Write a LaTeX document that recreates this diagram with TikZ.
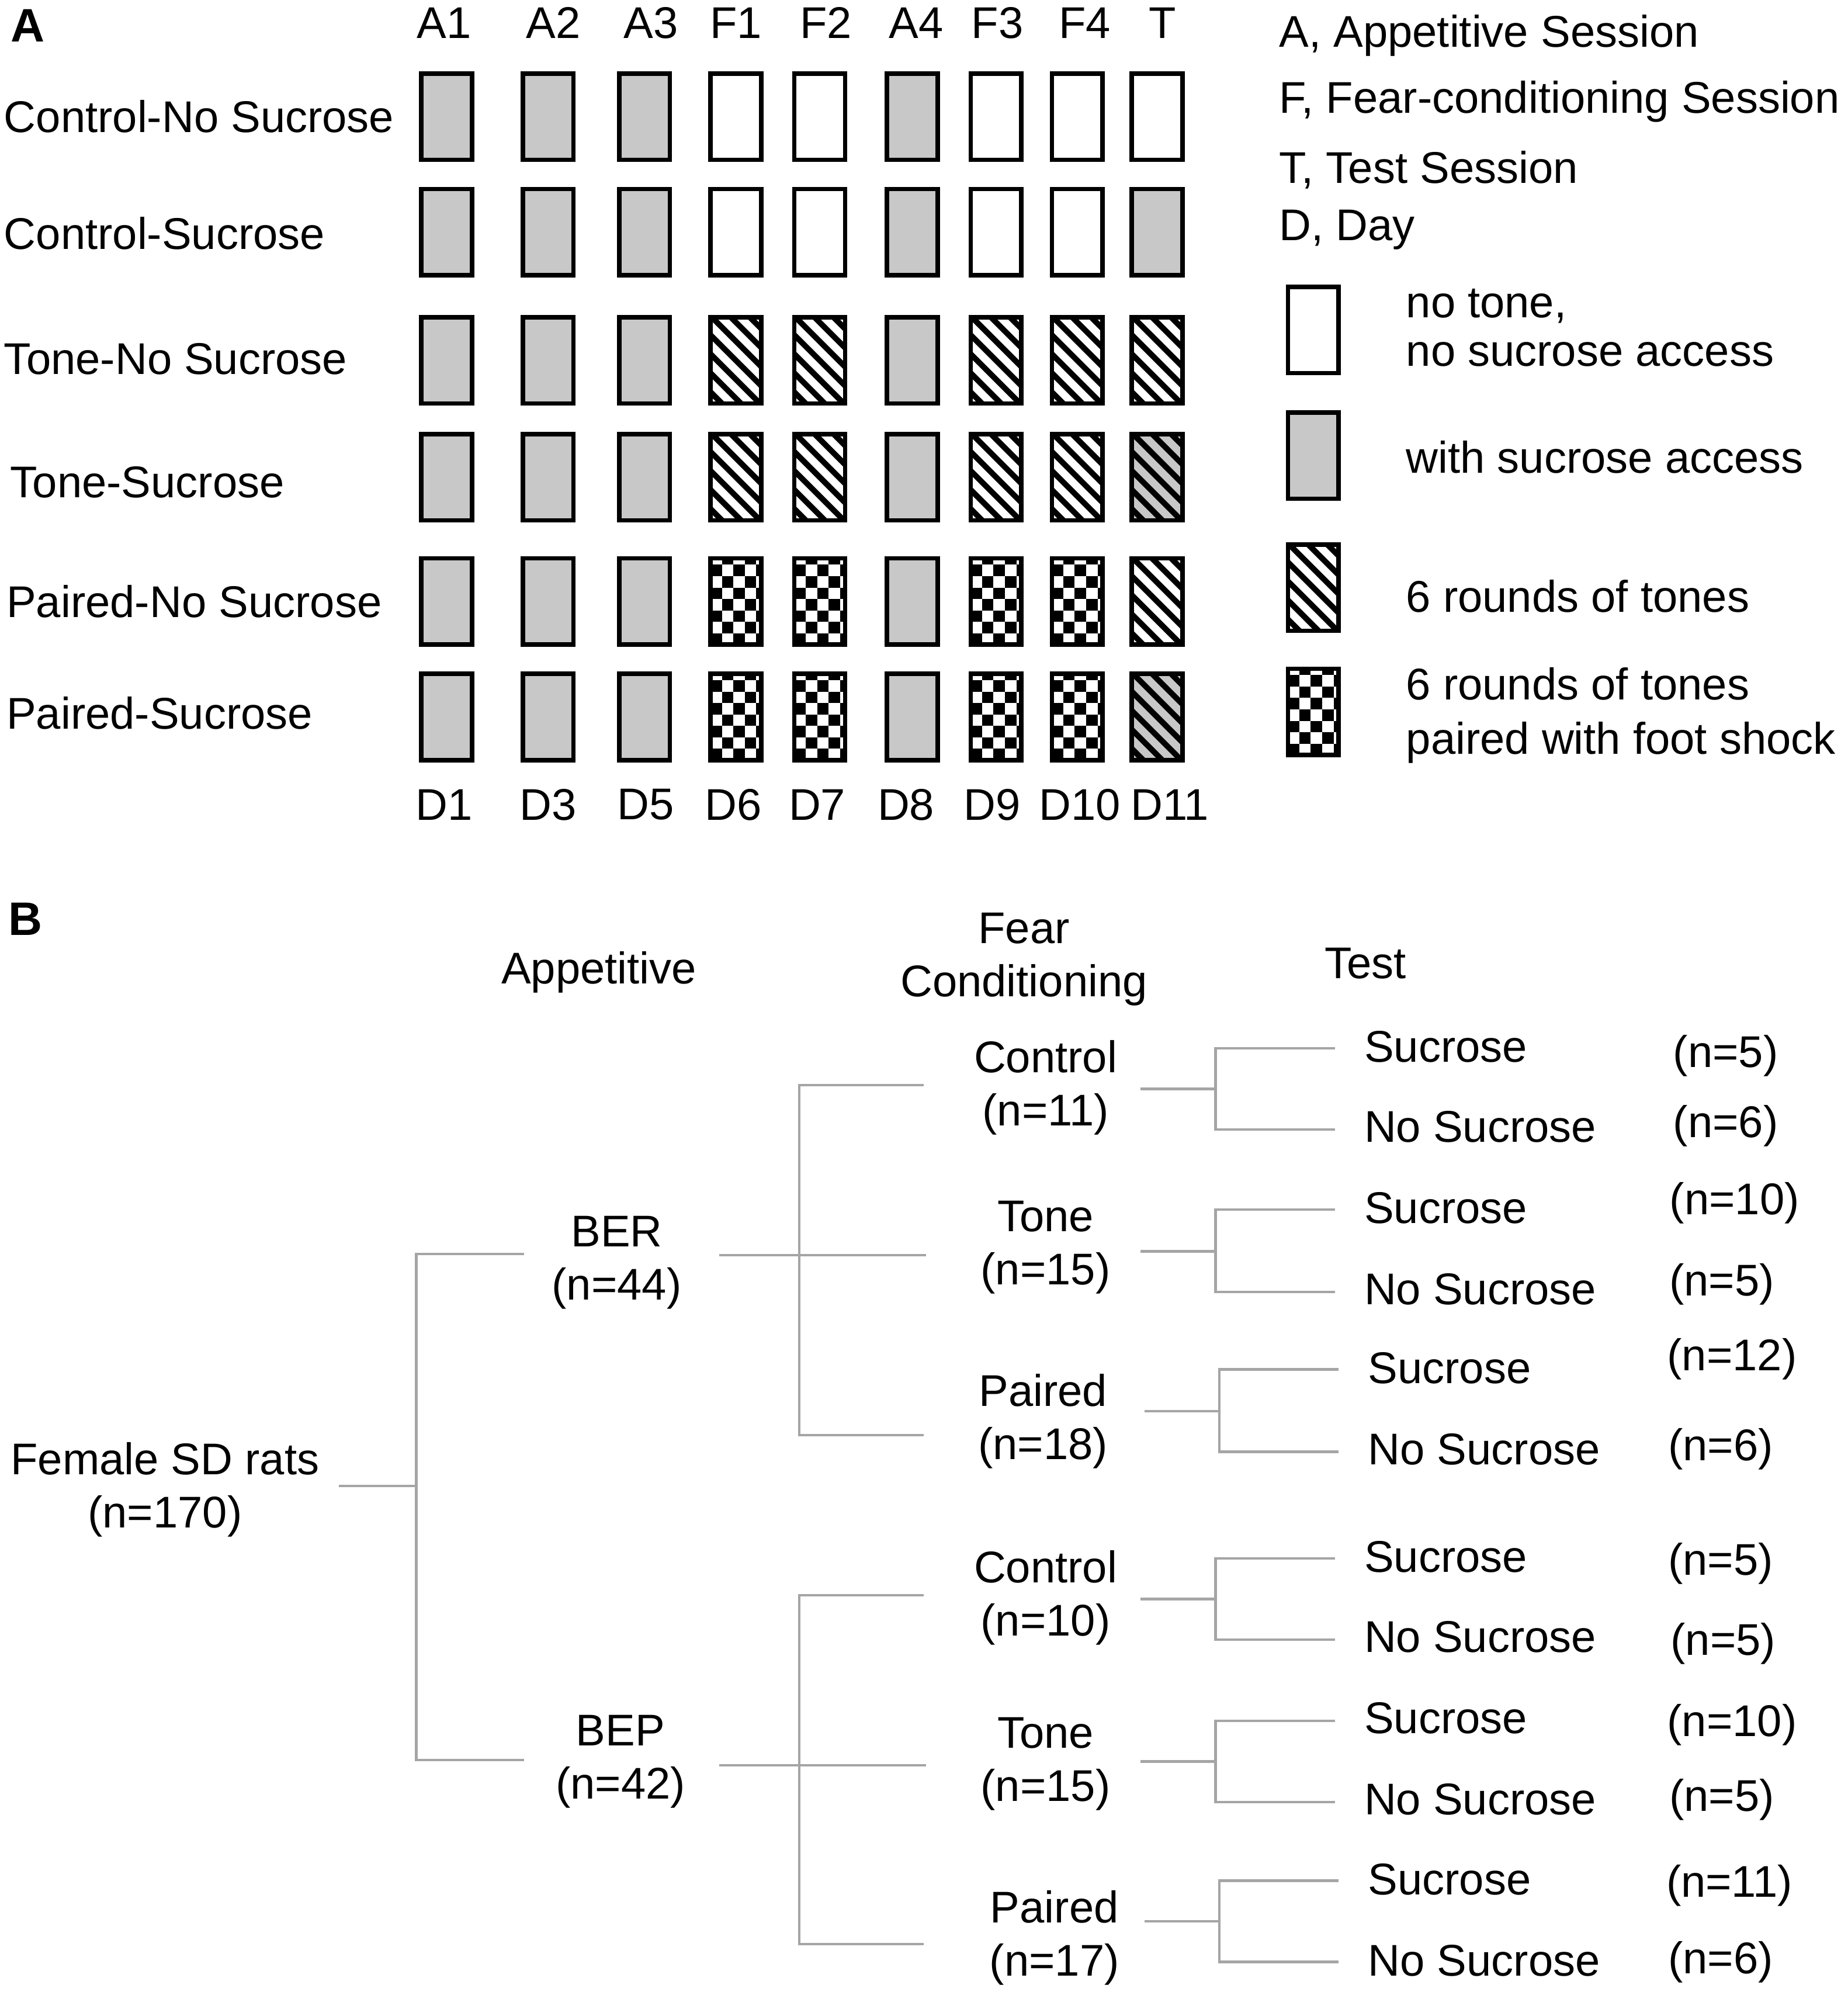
\documentclass[tikz,border=0pt]{standalone}
\usepackage{fontspec}
\setmainfont{Liberation Sans}
\definecolor{sgray}{RGB}{200,200,200}
\definecolor{tgray}{RGB}{165,165,165}
\begin{document}
\begin{tikzpicture}[x=1pt,y=-1pt,
  every node/.style={font=\fontsize{35}{42}\selectfont, inner sep=0pt},
  lbl/.style={font=\bfseries\fontsize{37}{42}\selectfont},
  tn/.style={align=center},
  sess/.style={draw=black, line width=3.5pt, minimum width=40pt, minimum height=68pt, inner sep=0pt},
  hatchfill/.style={path picture={\foreach \k in {-7,...,7}{\draw[black,line width=4.5pt] ([xshift=\k*15pt-60pt, yshift=60pt]path picture bounding box.center) -- ++(120,120);}}},
  checkfill/.style={path picture={\foreach \i in {0,...,5}{\foreach \j in {0,...,4}{\fill[black] ([xshift=\i*9pt, yshift={(2*\j+mod(\i,2))*9pt}]path picture bounding box.south west) rectangle ++(9,-9);}}}},
  boxW/.style={sess, fill=white},
  boxG/.style={sess, fill=sgray},
  boxH/.style={sess, fill=white, hatchfill},
  boxC/.style={sess, fill=white, checkfill},
  boxX/.style={sess, fill=sgray, hatchfill},
  tree/.style={draw=tgray, line width=2pt}
]
\fill[white] (0,0) rectangle (1456,1569.7);
\useasboundingbox (0,0) rectangle (1456,1569.7);

% ---------------- Panel A ----------------
\node[lbl] (labA) at (22,20) {A};

\foreach \t/\x [count=\c] in {A1/350,A2/436,A3/513,F1/580,F2/651,A4/722,F3/786,F4/855,T/916}
  \node (h\c) at (\x,18) {\t};
\foreach \t/\x [count=\c] in {D1/350,D3/432,D5/509,D6/578,D7/644,D8/714,D9/782,D10/851,D11/922}
  \node (d\c) at (\x,634) {\t};

\foreach \t/\x/\y [count=\r] in {Control-No Sucrose/3/92, Control-Sucrose/3/184, Tone-No Sucrose/3/283, Tone-Sucrose/8/380, Paired-No Sucrose/5/474, Paired-Sucrose/5/562}
  \node[anchor=west] (rl\r) at (\x,\y) {\t};

\foreach \yy/\types [count=\r] in {92/{G,G,G,W,W,G,W,W,W}, 183/{G,G,G,W,W,G,W,W,G}, 284/{G,G,G,H,H,G,H,H,H}, 376/{G,G,G,H,H,G,H,H,X}, 474/{G,G,G,C,C,G,C,C,H}, 565/{G,G,G,C,C,G,C,C,X}}{
  \foreach \t [count=\c] in \types {
    \pgfmathsetmacro{\xx}{{352,432,508,580,646,719,785,849,912}[\c-1]}
    \node[box\t] (b\r-\c) at (\xx,\yy) {};
  }
}

% legend
\node[anchor=west] (lgA) at (1008,28) {A, Appetitive Session};
\node[anchor=west] (lgF) at (1008,80) {F, Fear-conditioning Session};
\node[anchor=west] (lgT) at (1008,134) {T, Test Session};
\node[anchor=west] (lgD) at (1008,181) {D, Day};
\node[boxW] (lb1) at (1035,260) {};
\node[boxG] (lb2) at (1035,359) {};
\node[boxH] (lb3) at (1035,463) {};
\node[boxC] (lb4) at (1035,561) {};
\node[anchor=west] (lt1a) at (1108,241) {no tone,};
\node[anchor=west] (lt1b) at (1108,279) {no sucrose access};
\node[anchor=west] (lt2) at (1108,360) {with sucrose access};
\node[anchor=west] (lt3) at (1108,470) {6 rounds of tones};
\node[anchor=west] (lt4a) at (1108,539) {6 rounds of tones};
\node[anchor=west] (lt4b) at (1108,585) {paired with foot shock};

% ---------------- Panel B ----------------
\node[lbl] (labB) at (20,724) {B};
\node (hApp) at (472,766) {Appetitive};
\node[tn] (hFear) at (807,756) {Fear\\Conditioning};
\node (hTest) at (1076,759) {Test};

\node[tn] (root) at (130,1174) {Female SD rats\\(n=170)};
\node[tn] (ber) at (486,995) {BER\\(n=44)};
\node[tn] (bep) at (489,1388) {BEP\\(n=42)};
\node[tn] (ctl1) at (824,857) {Control\\(n=11)};
\node[tn] (tone1) at (824,983) {Tone\\(n=15)};
\node[tn] (pai1) at (822,1120) {Paired\\(n=18)};
\node[tn] (ctl2) at (824,1259) {Control\\(n=10)};
\node[tn] (tone2) at (824,1390) {Tone\\(n=15)};
\node[tn] (pai2) at (831,1527) {Paired\\(n=17)};

% test-level labels
\foreach \n/\x/\y/\t in {ctl1a/1075/825/Sucrose, ctl1b/1075/888/No Sucrose,
  tone1a/1075/952/Sucrose, tone1b/1075/1016/No Sucrose,
  pai1a/1078/1078/Sucrose, pai1b/1078/1142/No Sucrose,
  ctl2a/1075/1227/Sucrose, ctl2b/1075/1290/No Sucrose,
  tone2a/1075/1354/Sucrose, tone2b/1075/1418/No Sucrose,
  pai2a/1078/1481/Sucrose, pai2b/1078/1545/No Sucrose}
  \node[anchor=west] (\n) at (\x,\y) {\t};

\foreach \n/\x/\y/\t in {nctl1a/1360/832/5, nctl1b/1360/887/6,
  ntone1a/1367/948/10, ntone1b/1357/1012/5,
  npai1a/1365/1071/12, npai1b/1356/1142/6,
  nctl2a/1356/1232/5, nctl2b/1358/1295/5,
  ntone2a/1365/1359/10, ntone2b/1357/1418/5,
  npai2a/1363/1486/11, npai2b/1356/1546/6}
  \node (\n) at (\x,\y) {(n=\t)};

% connector end points
\coordinate (root-out) at (267,1171);
\coordinate (s0) at (328,1171);
\coordinate (ber-in) at (413,988);
\coordinate (bep-in) at (413,1387);
\coordinate (ber-out) at (567,989);
\coordinate (bep-out) at (567,1391);
\coordinate (s1) at (630,989);
\coordinate (s2) at (630,1391);
\coordinate (ctl1-in) at (728,855);
\coordinate (tone1-in) at (730,989);
\coordinate (pai1-in) at (728,1131);
\coordinate (ctl2-in) at (728,1257);
\coordinate (tone2-in) at (730,1391);
\coordinate (pai2-in) at (728,1532);

\draw[tree] (root-out) -- (s0);
\draw[tree] (ber-in) -| (s0) |- (bep-in);
\draw[tree] (ber-out) -- (tone1-in);
\draw[tree] (ctl1-in) -| (s1) |- (pai1-in);
\draw[tree] (bep-out) -- (tone2-in);
\draw[tree] (ctl2-in) -| (s2) |- (pai2-in);

\foreach \g/\ox/\oy/\kx/\ay/\by in {ctl1/899/858/958/826/890, tone1/899/986/958/953/1018, pai1/902/1112/961/1079/1144, ctl2/899/1260/958/1228/1292, tone2/899/1388/958/1356/1420, pai2/902/1514/961/1482/1546}{
  \coordinate (\g-out) at (\ox,\oy);
  \coordinate (\g-k) at (\kx,\oy);
  \coordinate (\g-a) at (\kx+94,\ay);
  \coordinate (\g-b) at (\kx+94,\by);
  \draw[tree] (\g-out) -- (\g-k);
  \draw[tree] (\g-a) -| (\g-k) |- (\g-b);
}
\end{tikzpicture}
\end{document}
